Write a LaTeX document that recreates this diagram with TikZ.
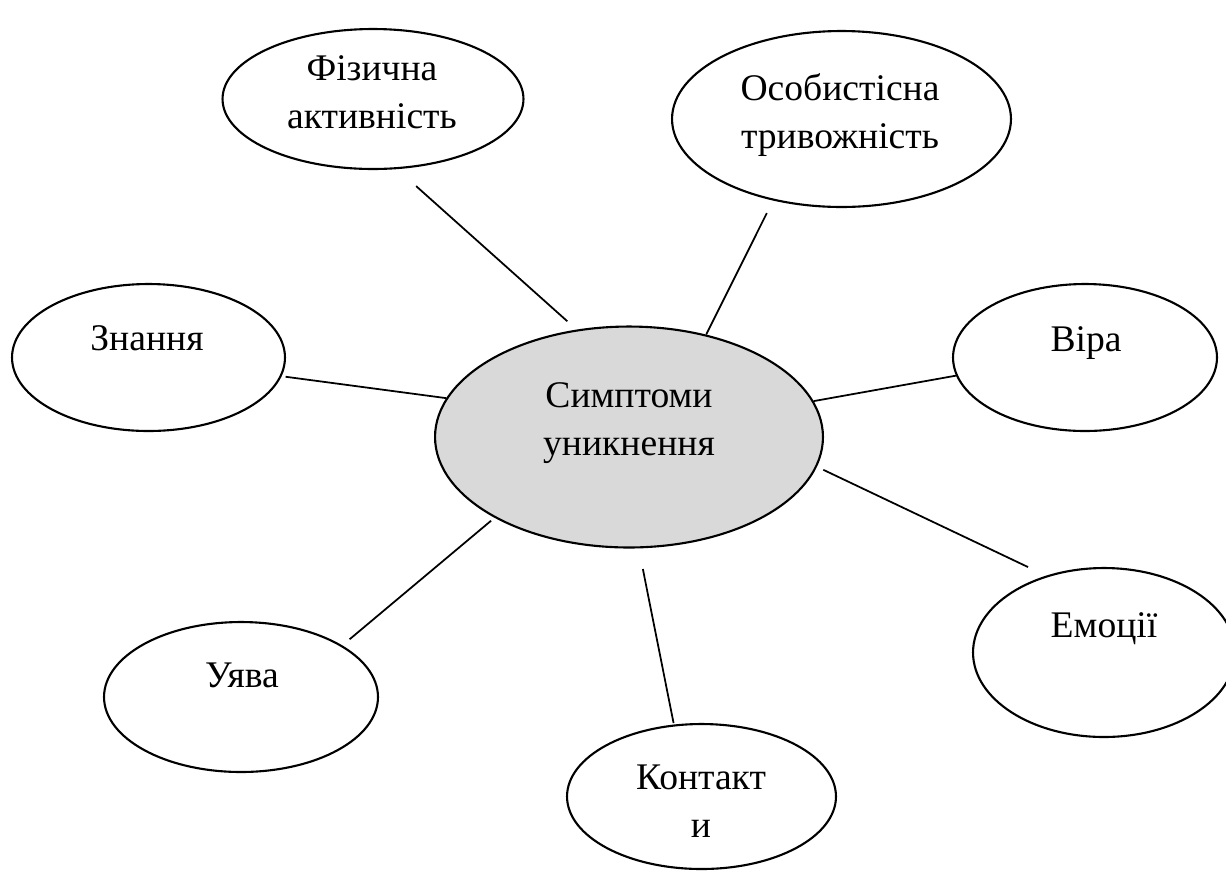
\documentclass[tikz,border=0pt]{standalone}
\usepackage{fontspec}
\setmainfont{Liberation Serif}
\usetikzlibrary{shapes.geometric}

\begin{document}
\begin{tikzpicture}[x=0.02cm, y=-0.02cm,
  bubble/.style={ellipse, draw, line width=1.2pt, inner sep=0pt},
  word/.style={font=\fontsize{21.4}{27.2}\selectfont, align=center, anchor=base, inner sep=0pt},
  link/.style={line width=1pt}]
  \useasboundingbox (0,0) rectangle (1226,870);

  \node[bubble, fill=black!15, minimum width=7.76cm, minimum height=4.42cm] (s_0) at (629,437) {};
  \node[bubble, minimum width=6.02cm, minimum height=2.80cm] (s_1) at (373,99) {};
  \node[bubble, minimum width=6.78cm, minimum height=3.52cm] (s_2) at (841.5,119) {};
  \node[bubble, minimum width=5.46cm, minimum height=2.94cm] (s_3) at (148.5,357.5) {};
  \node[bubble, minimum width=5.28cm, minimum height=2.94cm] (s_4) at (1085,357.5) {};
  \node[bubble, minimum width=5.24cm, minimum height=3.38cm] (s_5) at (1104,652.5) {};
  \node[bubble, minimum width=5.48cm, minimum height=3.00cm] (s_6) at (241,697) {};
  \node[bubble, minimum width=5.38cm, minimum height=2.90cm] (s_7) at (701.5,796.5) {};

  % two-line labels sit on the baseline of their last line
  \node[word] (t_0) at (629,455) {Симптоми\\уникнення};
  \node[word] (t_1) at (372,128) {Фізична\\активність};
  \node[word] (t_2) at (840,148) {Особистісна\\тривожність};
  \node[word] (t_3) at (147,350) {Знання};
  \node[word] (t_4) at (1086,351) {Віра};
  \node[word] (t_5) at (1104,637) {Емоції};
  \node[word] (t_6) at (242,687) {Уява};
  \node[word] (t_7) at (701,837) {Контакт\\и};

  \path[link] (s_0.116) edge[shorten <=0.25cm, shorten >=0.51cm] (s_1.289);
  \path[link] (s_0.53) edge[shorten >=0.28cm] (s_2.230);
  \path[link] (s_0.168.5) edge[shorten >=0.08cm] (s_3.352);
  \path[link] (s_0.11.7) edge (s_4.188);
  \path[link] (s_0.351.5) edge[shorten <=0.14cm, shorten >=0.40cm] (s_5.127.5);
  \path[link] (s_0.211) edge[shorten <=0.09cm, shorten >=0.19cm] (s_6.27.8);
  \path[link] (s_0.275.2) edge[shorten <=0.42cm, shorten >=0.03cm] (s_7.111.7);
\end{tikzpicture}
\end{document}
